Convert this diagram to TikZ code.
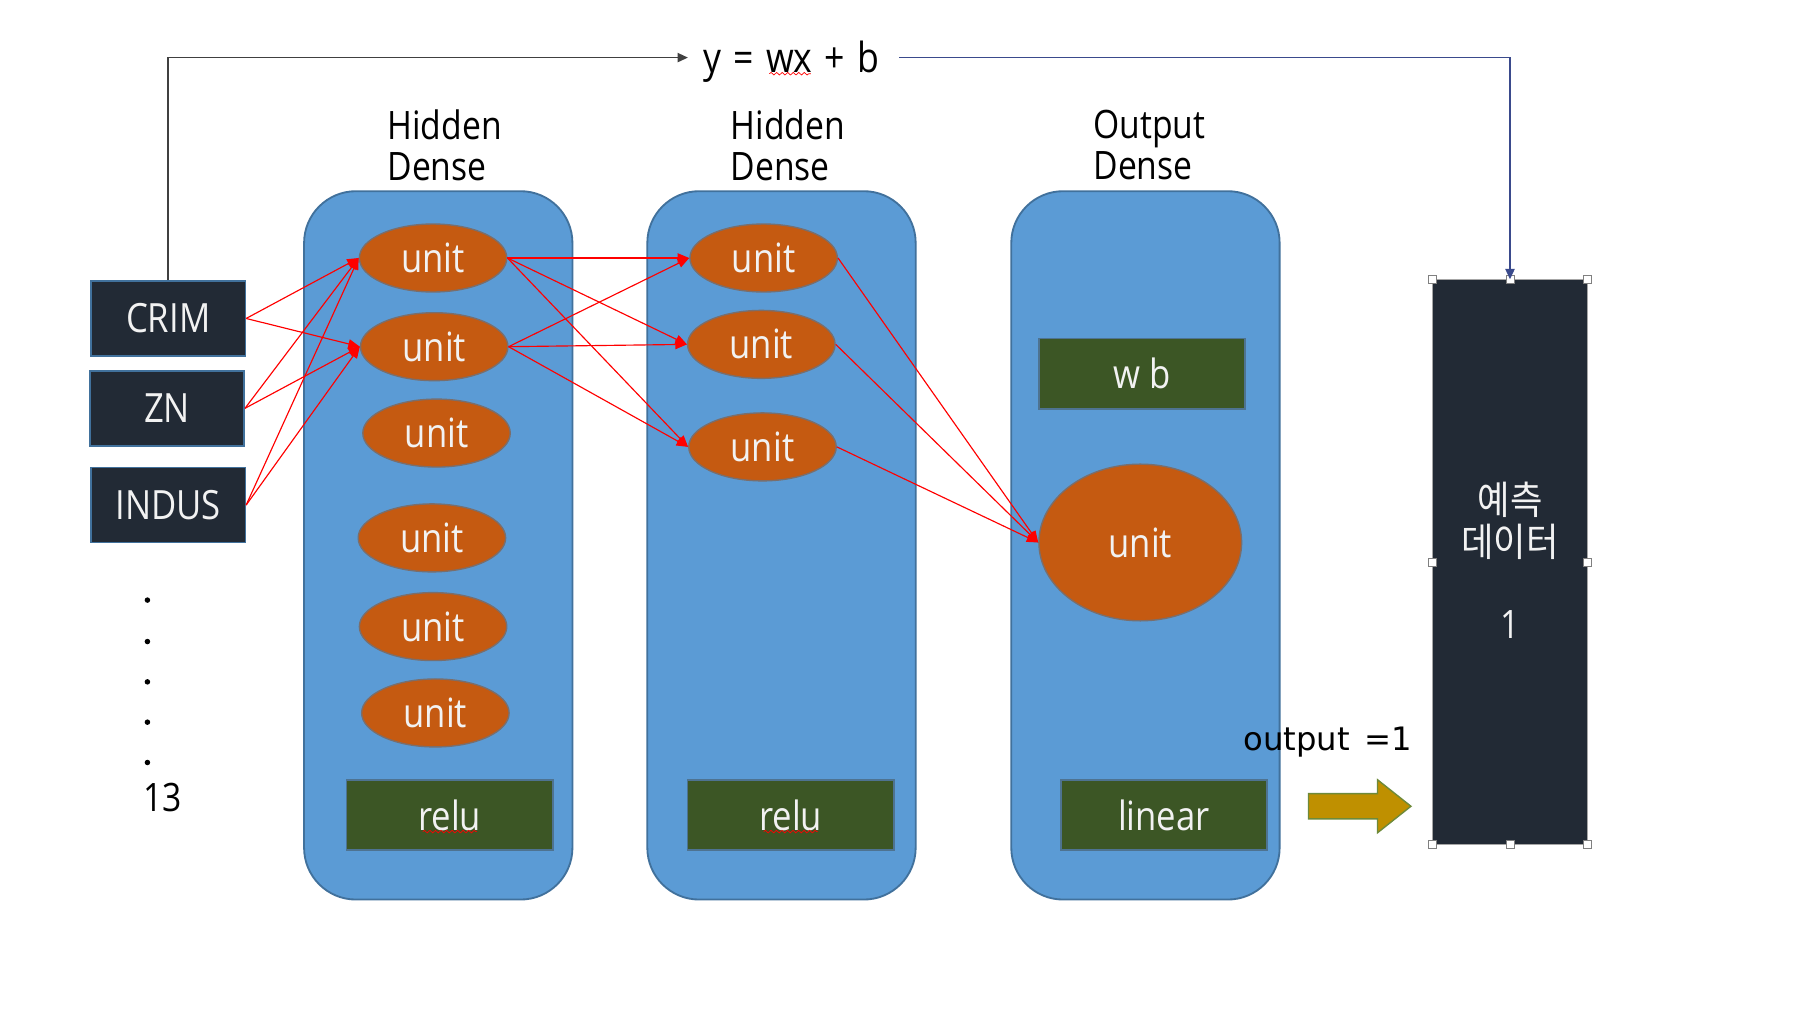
\documentclass[tikz,border=0pt]{standalone}
\usepackage{fontspec}
\setmainfont{Open Sans}[FakeStretch=0.86]
\newfontfamily\krfont{Noto Sans CJK KR}[FakeStretch=0.9]
\newfontfamily\outfont{DejaVu Sans}
\usetikzlibrary{shapes.geometric,arrows.meta,decorations.pathmorphing}
\definecolor{panelblue}{HTML}{5B9BD5}
\definecolor{paneledge}{HTML}{41719C}
\definecolor{unitfill}{HTML}{C55A11}
\definecolor{unitedge}{HTML}{7A6E6C}
\definecolor{boxgreen}{HTML}{3C5625}
\definecolor{boxgreenedge}{HTML}{4E7391}
\definecolor{navybox}{HTML}{222A35}
\definecolor{goldfill}{HTML}{BF9000}
\definecolor{goldedge}{HTML}{6E8A3A}
\definecolor{toplineA}{HTML}{404040}
\definecolor{toplineB}{HTML}{3A4A8C}
\definecolor{lighttext}{HTML}{F2F2F2}
\begin{document}
\begin{tikzpicture}[x=0.5pt,y=-0.5pt,
  txt/.style={font=\fontsize{17}{18}\selectfont, inner sep=0pt},
  panel/.style={draw=paneledge, fill=panelblue, line width=0.8pt, rounded corners=22.5pt},
  unitnode/.style={ellipse, draw=unitedge, fill=unitfill, line width=0.6pt,
    minimum width=64pt, minimum height=29.5pt, inner sep=0pt, text=lighttext,
    font=\fontsize{17.5}{18}\selectfont},
  inbox/.style={rectangle, draw=paneledge, fill=navybox, line width=0.7pt,
    minimum width=67pt, minimum height=32.5pt, inner sep=0pt, text=lighttext,
    font=\fontsize{17.5}{18}\selectfont},
  actbox/.style={rectangle, draw=boxgreenedge, fill=boxgreen, line width=0.7pt,
    minimum width=89.5pt, minimum height=30.5pt, inner sep=0pt, text=lighttext,
    font=\fontsize{17.5}{18}\selectfont},
  conn/.style={draw=red, line width=0.5pt, -{Triangle[length=5pt,width=4pt]}},
  handle/.style={rectangle, draw=gray, fill=white, line width=0.4pt,
    minimum size=3.5pt, inner sep=0pt},
  dotnode/.style={circle, fill=black, inner sep=0pt, minimum size=2.4pt},
  squiggle/.style={draw=red, line width=0.3pt, decorate,
    decoration={snake, amplitude=0.55pt, segment length=2.4pt}}
]
\useasboundingbox[fill=white] (0,0) rectangle (1568,883);

% panels
\draw[panel] (264,166) rectangle (497,781);
\draw[panel] (562,166) rectangle (795,781);
\draw[panel] (878,166) rectangle (1111,781);

% panel titles
\node[txt, align=left, anchor=west] (t1) at (336,126) {Hidden\\Dense};
\node[txt, align=left, anchor=west] (t2) at (634,126) {Hidden\\Dense};
\node[txt, align=left, anchor=west] (t3) at (949,126) {Output\\Dense};

% inputs
\node[inbox] (crim) at (146,276.5) {CRIM};
\node[inbox] (zn) at (145,354.5) {ZN};
\node[inbox] (indus) at (146,438.5) {INDUS};
\node[dotnode] (d1) at (128,521) {};
\node[dotnode] (d2) at (128,557) {};
\node[dotnode] (d3) at (128,592) {};
\node[dotnode] (d4) at (128,627) {};
\node[dotnode] (d5) at (128,662) {};
\node[txt] (n13) at (141,692) {13};

% hidden layer 1
\node[unitnode] (a1) at (376,224) {unit};
\node[unitnode] (a2) at (377,301) {unit};
\node[unitnode] (a3) at (379,376) {unit};
\node[unitnode] (a4) at (375,467) {unit};
\node[unitnode] (a5) at (376,544) {unit};
\node[unitnode] (a6) at (378,619) {unit};
\node[actbox] (relu1) at (390.5,707.5) {relu};

% hidden layer 2
\node[unitnode] (b1) at (663,224) {unit};
\node[unitnode] (b2) at (661,299) {unit};
\node[unitnode] (b3) at (662,388) {unit};
\node[actbox] (relu2) at (686.5,707.5) {relu};

% output layer
\node[actbox] (wb) at (991.5,324.5) {w b};
\node[unitnode, minimum width=88pt, minimum height=68pt] (out) at (990,471) {unit};
\node[actbox] (lin) at (1010.5,707.5) {linear};

% prediction box
\node[rectangle, draw=gray!70, fill=navybox, line width=0.5pt,
  minimum width=67pt, minimum height=245pt, inner sep=0pt] (pred) at (1311,488) {};
\node[font=\krfont\fontsize{17}{18}\selectfont, text=lighttext, align=center, inner sep=0pt]
  (predtxt) at (1311,452) {예측\\데이터};
\node[txt, text=lighttext] (predone) at (1311,542) {1};
\foreach \hx/\hy [count=\i] in {1244/243,1311/243,1378/243,1244/488,1378/488,1244/733,1311/733,1378/733}
  \node[handle] (h\i) at (\hx,\hy) {};

% output label and arrow
\node[font=\outfont\fontsize{14}{16}\selectfont, inner sep=0pt] (outlbl) at (1153,644) {output\hspace{2pt} =1};
\draw[fill=goldfill, draw=goldedge, line width=0.6pt]
  (1136,689) -- (1196,689) -- (1196,677) -- (1225,700) -- (1196,723) -- (1196,711) -- (1136,711) -- cycle;

% equation and top connector
\node[font=\fontsize{18}{18}\selectfont, inner sep=0pt] (eq) at (687,54)
  {y\hspace{5.3pt}=\hspace{5.3pt}wx\hspace{5.3pt}+\hspace{5.3pt}b};
\coordinate (eqL) at ([xshift=-6.5pt,yshift=2pt]eq.west);
\coordinate (eqR) at ([xshift=8.5pt,yshift=2pt]eq.east);
\draw[toplineA, line width=0.7pt, -{Triangle[length=4.5pt,width=4pt]}] (crim.north) |- (eqL);
\draw[toplineB, line width=0.7pt, -{Triangle[length=4.5pt,width=4pt]}] (eqR) -| (pred.north);

% spell-check squiggles
\draw[squiggle] (668,64) -- (704,64);
\draw[squiggle] (367,722) -- (414,722);
\draw[squiggle] (663,722) -- (710,722);

% input -> hidden 1
\foreach \s in {crim,zn,indus}{
  \draw[conn] (\s.east) -- (a1.west);
  \draw[conn] (\s.east) -- (a2.west);
}
% hidden 1 -> hidden 2
\foreach \s in {a1,a2}{
  \foreach \t in {b1,b2,b3}{
    \draw[conn] (\s.east) -- (\t.west);
  }
}
% hidden 2 -> output
\foreach \s in {b1,b2,b3}{
  \draw[conn] (\s.east) -- (out.west);
}
\end{tikzpicture}
\end{document}
